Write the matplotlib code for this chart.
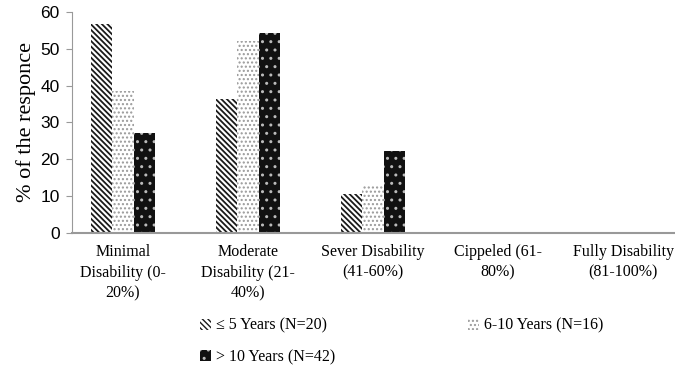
import numpy as np
import matplotlib
matplotlib.use("Agg")
import matplotlib.pyplot as plt

# Disability level by years since onset (% of responses)
categories = ["Minimal\nDisability (0-\n20%)", "Moderate\nDisability (21-\n40%)",
              "Sever Disability\n(41-60%)", "Cippeled (61-\n80%)", "Fully Disability\n(81-100%)"]
le5_years = [56.8, 36.3, 10.5, 0, 0]
yrs_6_10 = [38.6, 52.0, 12.7, 0, 0]
gt10_years = [27.0, 54.3, 22.2, 0, 0]

series_labels = ["\u2264 5 Years (N=20)", "6-10 Years (N=16)", "> 10 Years (N=42)"]
yticks = [0, 10, 20, 30, 40, 50, 60]

serif = ["Liberation Serif", "DejaVu Serif"]

fig = plt.figure(figsize=(6.75, 3.77), dpi=100)
ax = fig.add_axes([0.1067, 0.383, 0.8933, 0.585])

x = np.arange(len(categories))
w = 0.172

# each series gets its own pattern; hatch width is picked up when the bar is made
plt.rcParams['hatch.linewidth'] = 1.3
b1 = ax.bar(x - w, le5_years, w, facecolor="white", edgecolor="#1a1a1a", linewidth=0,
            hatch="\\\\\\\\\\\\")
plt.rcParams['hatch.linewidth'] = 1.0
b2 = ax.bar(x, yrs_6_10, w, facecolor="white", edgecolor="#999999", linewidth=0,
            hatch="....")
plt.rcParams['hatch.linewidth'] = 1.0
b3 = ax.bar(x + w, gt10_years, w, facecolor="#111111", edgecolor="#bbbbbb", linewidth=0,
            hatch="..")

ax.set_xlim(-0.408, 4.416)
ax.set_ylim(0, 60)
ax.set_yticks(yticks)
ax.set_xticks(x)
ax.set_xticklabels(categories, family=serif, fontsize=11.5, linespacing=1.4)
ax.tick_params(axis="x", length=0, pad=8)
ax.tick_params(axis="y", length=4, color="#999999", labelsize=12.5, pad=5)
for lbl in ax.get_yticklabels():
    lbl.set_family("Liberation Sans")

for side in ["top", "right"]:
    ax.spines[side].set_visible(False)
ax.spines["left"].set_color("#999999")
ax.spines["bottom"].set_color("#999999")
ax.spines["bottom"].set_linewidth(1.5)

ax.set_ylabel("% of the responce", family=serif, fontsize=16, labelpad=3)

# legend fills column-wise, so order handles to read row-wise
fig.legend([b1, b3, b2], [series_labels[0], series_labels[2], series_labels[1]],
           loc="upper left", bbox_to_anchor=(0.275, 0.195), ncol=2, frameon=False,
           prop={"family": serif, "size": 11.5}, handlelength=0.7, handleheight=0.7,
           handletextpad=0.3, columnspacing=8.3, labelspacing=0.95)

fig.savefig("out.png", dpi=100)
